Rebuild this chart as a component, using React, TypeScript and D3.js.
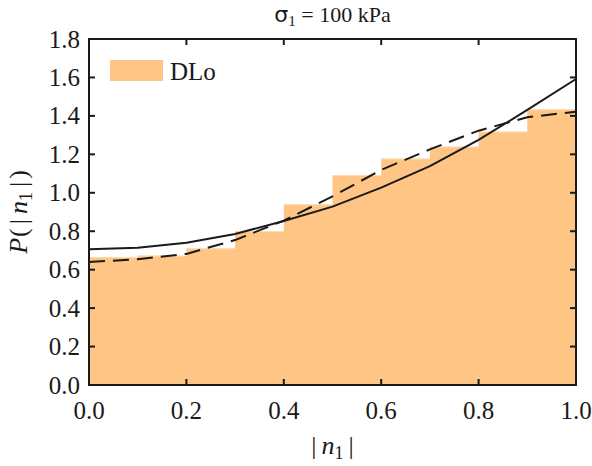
import React from "react";
import * as d3 from "d3";

// Histogram of |n1| (density) with two fitted curves
const binEdges = [0, 0.1, 0.2, 0.3, 0.4, 0.5, 0.6, 0.7, 0.8, 0.9, 1.0];
const binDensity = [0.666, 0.673, 0.711, 0.801, 0.94, 1.092, 1.178, 1.24, 1.318, 1.434];

const curveX = [0, 0.1, 0.2, 0.3, 0.4, 0.5, 0.6, 0.7, 0.8, 0.9, 1.0];
const solidCurve = [0.706, 0.714, 0.74, 0.786, 0.853, 0.928, 1.027, 1.139, 1.275, 1.431, 1.592];
const dashedCurve = [0.64, 0.654, 0.682, 0.754, 0.855, 0.981, 1.119, 1.226, 1.323, 1.393, 1.422];

const xTicks = [0, 0.2, 0.4, 0.6, 0.8, 1.0];
const yTicks = [0, 0.2, 0.4, 0.6, 0.8, 1.0, 1.2, 1.4, 1.6, 1.8];

const legendLabel = "DLo";

const W = 592;
const H = 466;
const M = { left: 89, right: 576, top: 39, bottom: 385 };
const FILL = "#fec585";
const SERIF = "'Liberation Serif', 'DejaVu Serif', serif";
const INK = "#1a1a1a";

export default function App() {
  const x = d3.scaleLinear().domain([0, 1]).range([M.left, M.right]);
  const y = d3.scaleLinear().domain([0, 1.8]).range([M.bottom, M.top]);

  const line = d3
    .line<number>()
    .x((_, i) => x(curveX[i]))
    .y((d) => y(d));

  const tickLen = 6;
  const fs = 25;

  return (
    <svg
      width={W}
      height={H}
      style={{ position: "absolute", left: 0, top: 0 }}
      fontFamily={SERIF}
    >
      <rect width={W} height={H} fill="#fff" />

      {/* histogram bars */}
      {binDensity.map((v, i) => (
        <rect
          key={i}
          x={x(binEdges[i])}
          y={y(v)}
          width={x(binEdges[i + 1]) - x(binEdges[i]) + 0.5}
          height={y(0) - y(v)}
          fill={FILL}
        />
      ))}
      {/* light rim along each bar top */}
      {binDensity.map((v, i) => (
        <line
          key={"rim" + i}
          x1={x(binEdges[i])}
          x2={x(binEdges[i + 1])}
          y1={y(v) + 0.5}
          y2={y(v) + 0.5}
          stroke="#fedcb4"
          strokeWidth={1}
        />
      ))}

      {/* fitted curves */}
      <path d={line(solidCurve) || ""} fill="none" stroke={INK} strokeWidth={2} />
      <path
        d={line(dashedCurve) || ""}
        fill="none"
        stroke={INK}
        strokeWidth={2}
        strokeDasharray="16,8"
      />

      {/* ticks on all four sides, pointing inward */}
      {xTicks.map((t) => (
        <g key={"xt" + t}>
          <line x1={x(t)} x2={x(t)} y1={M.bottom} y2={M.bottom - tickLen} stroke={INK} strokeWidth={2} />
          <line x1={x(t)} x2={x(t)} y1={M.top} y2={M.top + tickLen} stroke={INK} strokeWidth={2} />
          <text x={x(t)} y={419} fontSize={fs} textAnchor="middle" fill={INK}>
            {t.toFixed(1)}
          </text>
        </g>
      ))}
      {yTicks.map((t) => (
        <g key={"yt" + t}>
          <line x1={M.left} x2={M.left + tickLen} y1={y(t)} y2={y(t)} stroke={INK} strokeWidth={2} />
          <line x1={M.right} x2={M.right - tickLen} y1={y(t)} y2={y(t)} stroke={INK} strokeWidth={2} />
          <text x={80} y={y(t)} dy="0.34em" fontSize={fs} textAnchor="end" fill={INK}>
            {t.toFixed(1)}
          </text>
        </g>
      ))}

      {/* frame */}
      <rect
        x={M.left}
        y={M.top}
        width={M.right - M.left}
        height={M.bottom - M.top}
        fill="none"
        stroke={INK}
        strokeWidth={2}
      />

      {/* legend */}
      <rect x={110} y={60} width={53} height={21} fill={FILL} />
      <text x={170} y={80} fontSize={fs} fill={INK}>
        {legendLabel}
      </text>

      {/* title */}
      <text x={(M.left + M.right) / 2} y={22} fontSize={22} textAnchor="middle" fill={INK}>
        <tspan fontFamily="'DejaVu Sans', sans-serif">σ</tspan>
        <tspan fontSize={15} dy={4}>1</tspan>
        <tspan dy={-4}> = 100 kPa</tspan>
      </text>

      {/* x axis label */}
      <text x={(M.left + M.right) / 2} y={454} fontSize={26} textAnchor="middle" fill={INK}>
        <tspan>|</tspan>
        <tspan fontStyle="italic" dx={5}>n</tspan>
        <tspan fontSize={18} dy={5}>1</tspan>
        <tspan dy={-5} dx={5}>|</tspan>
      </text>

      {/* y axis label */}
      <text
        transform={`translate(27, ${(M.top + M.bottom) / 2}) rotate(-90)`}
        fontSize={26}
        textAnchor="middle"
        fill={INK}
      >
        <tspan fontStyle="italic">P</tspan>
        <tspan dx={1}>(</tspan>
        <tspan dx={4}>|</tspan>
        <tspan fontStyle="italic" dx={5}>n</tspan>
        <tspan fontSize={18} dy={5}>1</tspan>
        <tspan dy={-5} dx={5}>|</tspan>
        <tspan dx={3}>)</tspan>
      </text>
    </svg>
  );
}
